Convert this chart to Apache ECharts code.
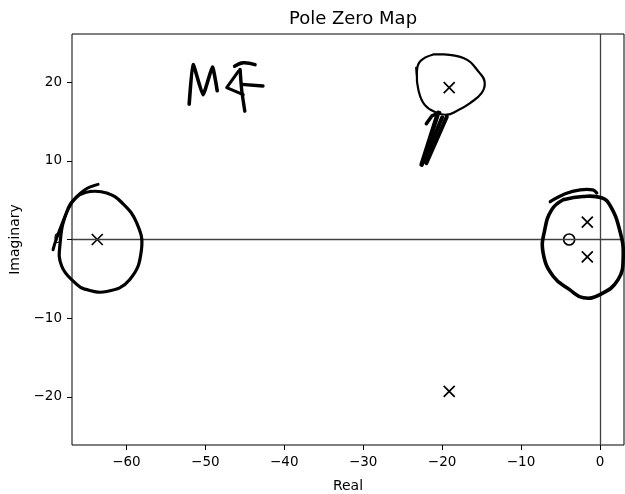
<!DOCTYPE html>
<html>
<head>
<meta charset="utf-8">
<script src="https://cdn.jsdelivr.net/npm/echarts@6/dist/echarts.min.js"></script>
<style>
  html, body { margin: 0; padding: 0; background: #fff; }
  #chart { width: 625px; height: 494px; }
</style>
</head>
<body>
<div id="chart"></div>
<script>
// poles (x) and zeros (o)
const poles = [[-63.7, 0], [-19.1, 19.3], [-19.1, -19.3], [-1.6, 2.2], [-1.6, -2.2]];
const zeros = [[-3.9, 0]];

const xTicks = [-60, -50, -40, -30, -20, -10, 0];
const yTicks = [-20, -10, 0, 10, 20];

// hand-drawn ink on top of the plot, in data units
const inkLeftLoop = [[-64.6, 6.1], [-62.5, 5.9], [-60.6, 4.7], [-58.7, 2.1], [-58.1, -1.3], [-59.6, -5.1],
  [-62.5, -6.6], [-65.3, -6.3], [-66.3, -5.7], [-68.2, -3.4], [-68.4, -0.4], [-67.6, 3.4], [-66.3, 5.4], [-64.6, 6.1]];
const inkLeftTail = [[-63.6, 7.0], [-65.3, 6.3], [-66.9, 4.7], [-68.2, 1.9], [-69.0, -0.3], [-69.3, -1.3]];
const inkRightHook = [[-6.3, 4.8], [-4.4, 5.8], [-2.5, 6.3], [-0.9, 6.3], [-0.4, 5.9]];
const inkRightLoop = [[-4.65, 5.05], [-2.15, 5.47], [0.2, 5.3], [1.3, 4.3], [2.5, 1.2], [2.95, -2.15], [2.3, -5.1],
  [0, -7.0], [-2.1, -7.4], [-3.8, -6.4], [-5.9, -4.7], [-7.2, -1.7], [-7.0, 1.2], [-6.1, 3.8], [-4.65, 5.05]];
const inkTopLoop = [[-21.1, 23.5], [-17.3, 23.05], [-15.2, 21.1], [-14.6, 19.9], [-15.0, 18.6], [-16.5, 17.3],
  [-18.2, 16.3], [-19.4, 15.85], [-20.7, 16.1], [-22.2, 17.1], [-23.0, 19.0], [-23.2, 21.1], [-22.8, 22.6], [-21.1, 23.5]];
const inkTopTick = [[-23.3, 21.8], [-23.2, 20.8]];
const inkStem1 = [[-20.5, 16.1], [-22.6, 9.5]];
const inkStem2 = [[-19.4, 15.6], [-22.0, 9.7]];
const inkStem3 = [[-20.0, 15.5], [-22.3, 9.9]];
const inkStemBar = [[-22.0, 14.7], [-21.3, 15.7], [-20.3, 16.1]];
const inkM = [[-52.05, 17.2], [-51.55, 22.2], [-50.3, 18.4], [-49.1, 21.9], [-48.5, 18.9]];
const inkFTop = [[-46.3, 22.0], [-45.2, 22.45], [-43.7, 22.2]];
const inkFStem = [[-45.6, 21.6], [-45.4, 19.0], [-45.0, 16.3]];
const inkFBar = [[-45.4, 19.7], [-42.7, 19.5]];
const inkF4 = [[-45.8, 21.4], [-47.3, 19.3], [-45.2, 18.4]];

const strokes = [
  { pts: inkLeftLoop, w: 3.2, smooth: 0.45 },
  { pts: inkLeftTail, w: 3, smooth: 0.4 },
  { pts: inkRightHook, w: 3.2, smooth: 0.4 },
  { pts: inkRightLoop, w: 3.6, smooth: 0.45 },
  { pts: inkTopLoop, w: 2.2, smooth: 0.45 },
  { pts: inkTopTick, w: 2, smooth: 0 },
  { pts: inkStem1, w: 4.5, smooth: 0 },
  { pts: inkStem2, w: 4, smooth: 0 },
  { pts: inkStem3, w: 4, smooth: 0 },
  { pts: inkStemBar, w: 3.5, smooth: 0 },
  { pts: inkM, w: 3.6, smooth: 0.15 },
  { pts: inkFTop, w: 3.4, smooth: 0.4 },
  { pts: inkFStem, w: 3.4, smooth: 0.2 },
  { pts: inkFBar, w: 3.4, smooth: 0 },
  { pts: inkF4, w: 3, smooth: 0 }
];

const FONT = "DejaVu Sans";
const minus = v => (v < 0 ? "\u2212" + Math.abs(v) : String(v));

const chart = echarts.init(document.getElementById("chart"), null, { renderer: "canvas" });

chart.setOption({
  animation: false,
  title: {
    text: "Pole Zero Map",
    left: 348,
    textAlign: "center",
    top: 5,
    textStyle: { fontFamily: FONT, fontSize: 18, fontWeight: "normal", color: "#000" }
  },
  grid: {
    left: 72, right: 1, top: 34, bottom: 49,
    outerBoundsMode: "none",
    containLabel: false,
    show: true, borderColor: "#000", borderWidth: 1, backgroundColor: "transparent"
  },
  xAxis: {
    type: "value",
    min: -66.9,
    max: 3.05,
    name: "Real",
    nameLocation: "middle",
    nameGap: 34,
    nameTextStyle: { fontFamily: FONT, fontSize: 14, color: "#000" },
    axisLine: { show: false, onZero: false },
    axisTick: { show: true, length: 5, customValues: xTicks, lineStyle: { color: "#000", width: 1 } },
    axisLabel: {
      customValues: xTicks, margin: 10, formatter: minus,
      fontFamily: FONT, fontSize: 13.5, color: "#000"
    },
    splitLine: { show: false }
  },
  yAxis: {
    type: "value",
    min: -26.1,
    max: 26.1,
    name: "Imaginary",
    nameLocation: "middle",
    nameGap: 50,
    nameTextStyle: { fontFamily: FONT, fontSize: 14, color: "#000" },
    axisLine: { show: false, onZero: false },
    axisTick: { show: true, length: 5, customValues: yTicks, lineStyle: { color: "#000", width: 1 } },
    axisLabel: {
      customValues: yTicks, margin: 10, formatter: minus,
      fontFamily: FONT, fontSize: 13.5, color: "#000"
    },
    splitLine: { show: false }
  },
  series: [
    {
      name: "poles",
      type: "scatter",
      data: poles,
      symbol: "path://M0,0L10,10M10,0L0,10",
      symbolSize: 11,
      itemStyle: { color: "transparent", borderColor: "#000", borderWidth: 1.7, opacity: 1 },
      z: 3,
      markLine: {
        silent: true,
        symbol: "none",
        label: { show: false },
        lineStyle: { color: "#404040", width: 1.3, type: "solid" },
        data: [{ xAxis: 0 }, { yAxis: 0 }]
      }
    },
    {
      name: "zeros",
      type: "scatter",
      data: zeros,
      symbol: "circle",
      symbolSize: 11,
      itemStyle: { color: "transparent", borderColor: "#000", borderWidth: 1.7, opacity: 1 },
      z: 3
    },
    {
      name: "ink",
      type: "custom",
      silent: true,
      clip: false,
      z: 5,
      data: strokes.map((s, i) => [s.pts[0][0], s.pts[0][1], i]),
      renderItem(params, api) {
        const s = strokes[api.value(2)];
        return {
          type: "polyline",
          shape: { points: s.pts.map(p => api.coord(p)), smooth: s.smooth },
          style: { stroke: "#000", fill: null, lineWidth: s.w, lineCap: "round", lineJoin: "round" }
        };
      }
    }
  ]
});

window.addEventListener("resize", () => chart.resize());
</script>
</body>
</html>
